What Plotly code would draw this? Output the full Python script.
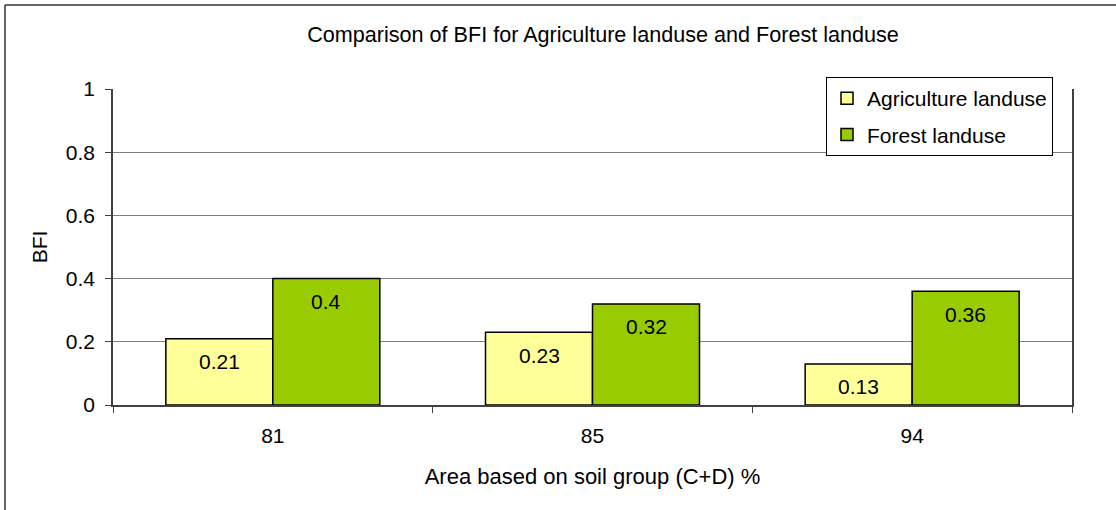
import plotly.graph_objects as go

# data
soil_group = ["81", "85", "94"]
agri_bfi = [0.21, 0.23, 0.13]
forest_bfi = [0.40, 0.32, 0.36]
y_ticks = [0, 0.2, 0.4, 0.6, 0.8, 1]
y_tick_text = ["0", "0.2", "0.4", "0.6", "0.8", "1"]

FONT = "Liberation Sans, Arial, sans-serif"
AGRI = "#FFFF99"
FOREST = "#99CC00"
LINE = "#404040"

fig = go.Figure()
fig.add_trace(go.Bar(
    name="Agriculture landuse", x=soil_group, y=agri_bfi,
    marker=dict(color=AGRI, line=dict(color="black", width=1.5)),
    legendgroup="a",
))
fig.add_trace(go.Bar(
    name="Forest landuse", x=soil_group, y=forest_bfi,
    marker=dict(color=FOREST, line=dict(color="black", width=1.5)),
    legendgroup="f",
))

# value labels, inside the top end of each bar
# (category index used for x, since "81" etc. would be read as numbers)
annos = []
for vals, shift in ((agri_bfi, -53.5), (forest_bfi, 53.5)):
    for i, v in enumerate(vals):
        annos.append(dict(
            x=i, y=v, xref="x", yref="y", text=f"{v:g}", showarrow=False,
            xshift=shift, yshift=-23, yanchor="middle",
            font=dict(family=FONT, size=21, color="black"),
        ))

W, H = 1116, 510
L, R, T, B = 113, 44, 89, 105
pw, ph = W - L - R, H - T - B
fx = lambda px: (px - L) / pw
fy = lambda py: 1 - (py - T) / ph

fig.update_layout(
    width=W, height=H,
    margin=dict(l=L, r=R, t=T, b=B, autoexpand=False),
    paper_bgcolor="white", plot_bgcolor="white",
    font=dict(family=FONT, size=21, color="black"),
    title=dict(
        text="Comparison of BFI for Agriculture landuse and Forest landuse",
        x=603 / W, xanchor="center", xref="container",
        y=1 - 34 / H, yanchor="middle", yref="container",
        font=dict(family=FONT, size=21.6, color="black"),
    ),
    barmode="group", bargap=0.3306, bargroupgap=0,
    showlegend=True,
    legend=dict(
        x=fx(826), y=fy(77), xanchor="left", yanchor="top",
        bordercolor="black", borderwidth=1, bgcolor="white",
        font=dict(family=FONT, size=21, color="black"),
        traceorder="grouped", tracegroupgap=6,
    ),
    xaxis=dict(
        type="category", range=[-0.5, 2.5],
        showline=True, linecolor=LINE, linewidth=1.5,
        ticks="outside", tickson="boundaries", ticklen=6, tickcolor=LINE,
        ticklabelstandoff=11,
        showgrid=False,
        title=dict(text="Area based on soil group (C+D) %", standoff=23,
                   font=dict(family=FONT, size=22)),
        tickfont=dict(family=FONT, size=21),
    ),
    yaxis=dict(
        range=[0, 1], tickvals=y_ticks, ticktext=y_tick_text,
        showline=True, linecolor=LINE, linewidth=1.5, mirror=True,
        ticks="outside", ticklen=6, tickcolor=LINE,
        ticklabelstandoff=6,
        showgrid=True, gridcolor="#808080", gridwidth=1,
        zeroline=False,
        title=dict(text="BFI", standoff=12, font=dict(family=FONT, size=21)),
        tickfont=dict(family=FONT, size=21),
    ),
    annotations=annos,
    shapes=[
        dict(type="line", xref="paper", yref="paper",
             x0=fx(5), x1=fx(5), y0=fy(5), y1=fy(520),
             line=dict(color="#333333", width=1.5)),
        dict(type="line", xref="paper", yref="paper",
             x0=fx(5), x1=fx(1130), y0=fy(5), y1=fy(5),
             line=dict(color="#333333", width=1.5)),
    ],
)

# drop the default body margin so the figure sits at the window's corner
fig.write_html(
    "out.html",
    config={"displayModeBar": False},
    post_script="document.body.style.margin='0';",
)
